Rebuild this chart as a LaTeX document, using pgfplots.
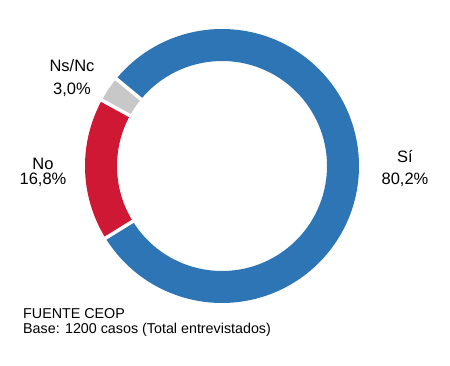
\documentclass[border=0pt]{standalone}
\usepackage{pgfplots}
\pgfplotsset{compat=1.18}
\usepackage{fontspec}
\setmainfont{Liberation Sans}
\definecolor{cblue}{RGB}{46,117,182}
\definecolor{cred}{RGB}{207,24,52}
\definecolor{cgray}{RGB}{200,200,200}
% data: share (%) of each answer
\def\valSi{80.2}
\def\valNo{16.8}
\def\valNs{3.0}
\def\cx{222}
\def\cy{200}
\def\Ro{137}
\def\Ri{105}
\newcommand{\slice}[3]{%
  \pgfmathsetmacro\sa{#1}%
  \pgfmathsetmacro\ea{#1-3.6*#2}%
  \pgfmathsetmacro\oxa{\cx+\Ro*cos(\sa)}\pgfmathsetmacro\oya{\cy+\Ro*sin(\sa)}%
  \pgfmathsetmacro\ixb{\cx+\Ri*cos(\ea)}\pgfmathsetmacro\iyb{\cy+\Ri*sin(\ea)}%
  \edef\tmp{\noexpand\fill[#3] (axis cs:\oxa,\oya) arc[start angle=\sa,end angle=\ea,radius=\Ro bp] -- (axis cs:\ixb,\iyb) arc[start angle=\ea,end angle=\sa,radius=\Ri bp] -- cycle;}%
  \tmp
}
\newcommand{\gap}[1]{%
  \pgfmathsetmacro\ga{#1}%
  \pgfmathsetmacro\gxa{\cx+(\Ri-3)*cos(\ga)}\pgfmathsetmacro\gya{\cy+(\Ri-3)*sin(\ga)}%
  \pgfmathsetmacro\gxb{\cx+(\Ro+3)*cos(\ga)}\pgfmathsetmacro\gyb{\cy+(\Ro+3)*sin(\ga)}%
  \edef\tmp{\noexpand\draw[white,line width=3.5bp] (axis cs:\gxa,\gya) -- (axis cs:\gxb,\gyb);}%
  \tmp
}
\begin{document}
\begin{tikzpicture}
\useasboundingbox (0,0) rectangle (450bp,366bp);
\begin{axis}[at={(0,0)},anchor=south west,
  width=450bp,height=366bp,scale only axis,
  xmin=0,xmax=450,ymin=0,ymax=366,hide axis,clip=false]
\pgfmathsetmacro\aS{140.5}
\pgfmathsetmacro\aN{\aS-3.6*\valSi}
\pgfmathsetmacro\aG{\aN-3.6*\valNo}
\pgfmathsetmacro\aE{\aG-3.6*\valNs}
\slice{\aS}{\valSi}{cblue}
\slice{\aN}{\valNo}{cred}
\slice{\aG}{\valNs}{cgray}
\gap{\aS}
\gap{\aN}
\gap{\aG}
\begin{scope}[every node/.style={font=\fontsize{16.5bp}{20bp}\selectfont,anchor=base,inner sep=0pt}]
\node at (axis cs:405,203) {Sí};
\node at (axis cs:405,181) {80,2\%};
\node at (axis cs:43,196) {No};
\node at (axis cs:43,181) {16,8\%};
\node at (axis cs:72,294) {Ns/Nc};
\node at (axis cs:72,271) {3,0\%};
\end{scope}
\begin{scope}[every node/.style={font=\fontsize{14.3bp}{17bp}\selectfont,anchor=base west,inner sep=0pt}]
\node at (axis cs:23,47) {FUENTE CEOP};
\node at (axis cs:23,32) {Base: 1200 casos (Total entrevistados)};
\end{scope}
\end{axis}
\end{tikzpicture}
\end{document}
